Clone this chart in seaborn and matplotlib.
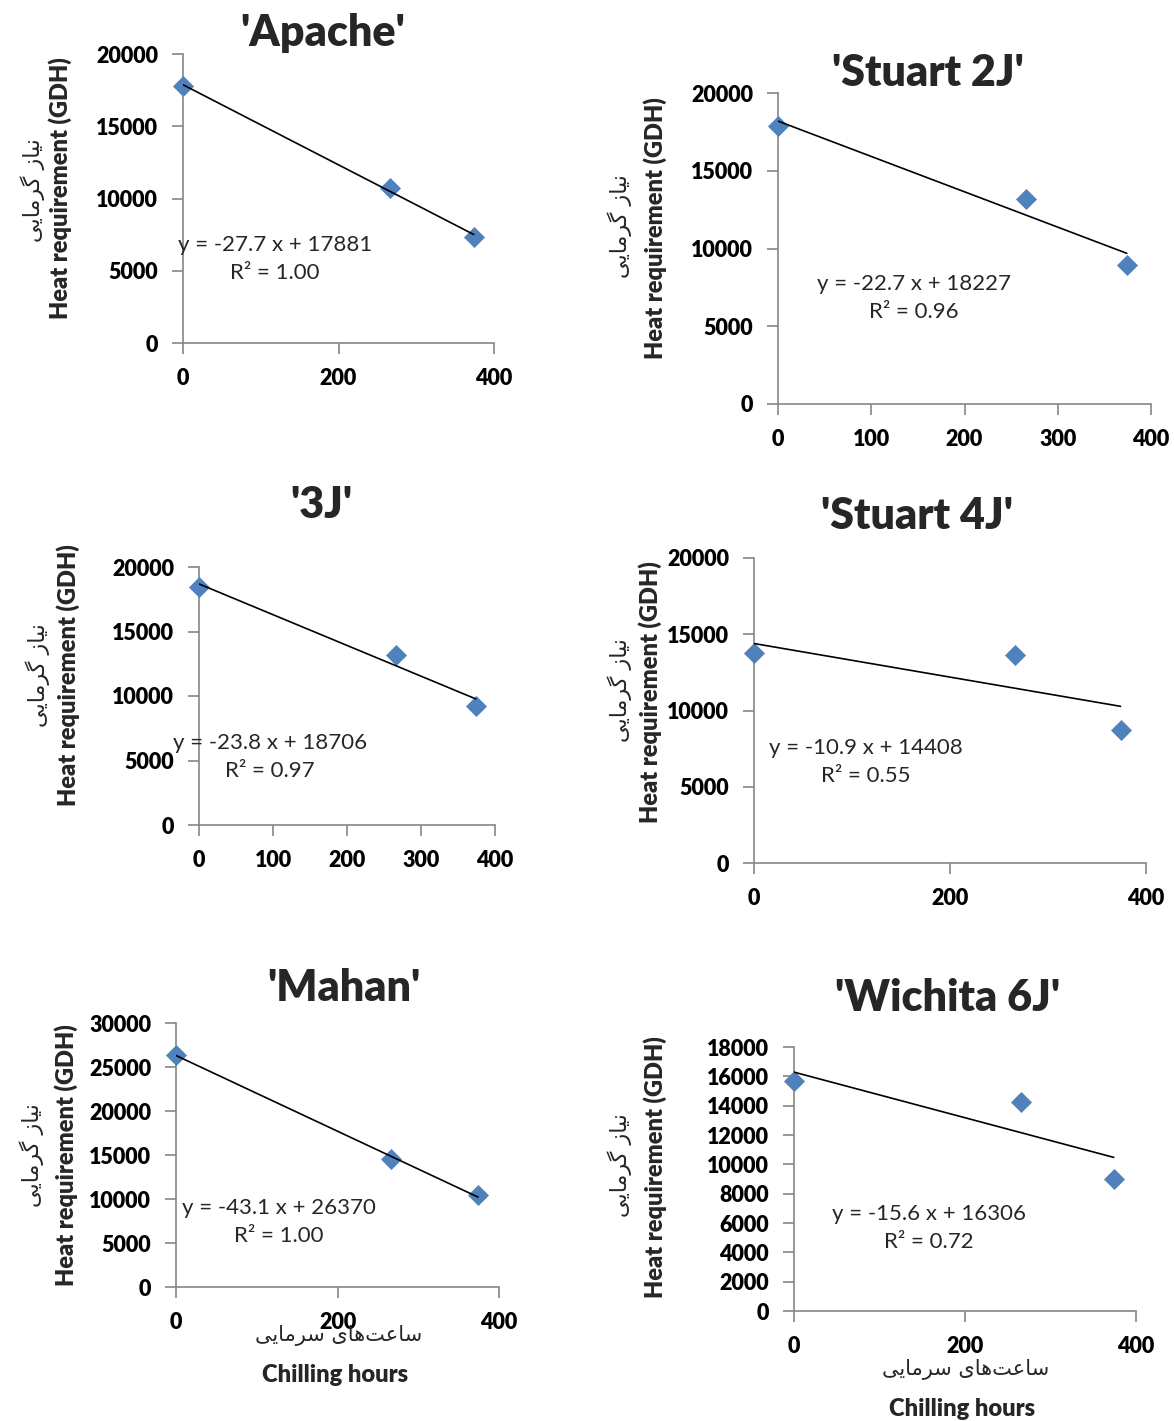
import numpy as np
import pandas as pd
import seaborn as sns
import matplotlib.pyplot as plt

W, H = 1174, 1421

# chilling hours are the same three levels for every cultivar
chill_hours = [0, 266, 374]

cultivars = ["'Apache'", "'Stuart 2J'", "'3J'", "'Stuart 4J'", "'Mahan'", "'Wichita 6J'"]
gdh_apache = [17800, 10750, 7330]
gdh_stuart2j = [17900, 13160, 8970]
gdh_3j = [18450, 13170, 9190]
gdh_stuart4j = [13770, 13620, 8740]
gdh_mahan = [26410, 14510, 10470]
gdh_wichita6j = [15680, 14250, 8980]
gdh_all = [gdh_apache, gdh_stuart2j, gdh_3j, gdh_stuart4j, gdh_mahan, gdh_wichita6j]

equations = ['y = -27.7 x + 17881', 'y = -22.7 x + 18227', 'y = -23.8 x + 18706',
             'y = -10.9 x + 14408', 'y = -43.1 x + 26370', 'y = -15.6 x + 16306']
r_squared = ['1.00', '0.96', '0.97', '0.55', '1.00', '0.72']

y_max = [20000, 20000, 20000, 20000, 30000, 18000]
y_step = [5000, 5000, 5000, 5000, 5000, 2000]
x_step = [200, 100, 100, 200, 200, 200]

ylabel_en = 'Heat requirement (GDH)'
ylabel_fa = 'نیاز گرمایی'
xlabel_en = 'Chilling hours'
xlabel_fa = 'ساعت\u200cهای سرمایی'

# layout in pixels: axes box (left, top, right, bottom)
boxes = [(183, 54, 494, 343), (778, 93, 1151, 404), (199, 567, 495, 825),
         (754, 558, 1146, 863), (176, 1023, 499, 1287), (794, 1047, 1136, 1311)]
title_pos = [(323, 33), (928, 73), (321, 505), (917, 516), (344, 988), (948, 998)]
ylab_en_pos = [(60, 188), (655, 228), (68, 675), (650, 692), (66, 1155), (655, 1167)]
ylab_fa_pos = [(33, 190), (620, 226), (38, 675), (620, 690), (32, 1155), (620, 1165)]
eq_pos = [(275, 259), (914, 298), (270, 757), (866, 762), (279, 1222), (929, 1228)]
xlab_pos = {4: [(339, 1335), (335, 1375)], 5: [(966, 1370), (962, 1409)]}

BLUE = '#4F81BD'
GREY = '#868686'

# matplotlib does no arabic shaping, so pick presentation forms by hand
FORMS = {  # isolated, final, initial, medial
    'ا': (0xFE8D, 0xFE8E, None, None),
    'ر': (0xFEAD, 0xFEAE, None, None),
    'ز': (0xFEAF, 0xFEB0, None, None),
    'س': (0xFEB1, 0xFEB2, 0xFEB3, 0xFEB4),
    'ع': (0xFEC9, 0xFECA, 0xFECB, 0xFECC),
    'ت': (0xFE95, 0xFE96, 0xFE97, 0xFE98),
    'ه': (0xFEE9, 0xFEEA, 0xFEEB, 0xFEEC),
    'م': (0xFEE1, 0xFEE2, 0xFEE3, 0xFEE4),
    'ن': (0xFEE5, 0xFEE6, 0xFEE7, 0xFEE8),
    'گ': (0xFB92, 0xFB93, 0xFB94, 0xFB95),
    'ی': (0xFBFC, 0xFBFD, 0xFBFE, 0xFBFF),
}


def shape_fa(text):
    out = []
    for i, ch in enumerate(text):
        if ch not in FORMS:
            if ch != '\u200c':
                out.append(ch)
            continue
        iso, fin, ini, med = FORMS[ch]
        prev = text[i - 1] if i > 0 else ''
        nxt = text[i + 1] if i + 1 < len(text) else ''
        join_prev = prev in FORMS and FORMS[prev][2] is not None
        join_next = ini is not None and nxt in FORMS
        if join_prev and join_next:
            cp = med
        elif join_prev:
            cp = fin
        elif join_next:
            cp = ini
        else:
            cp = iso
        out.append(chr(cp))
    return ''.join(reversed(out))


def px(x, y):
    return x / W, 1 - y / H


sns.set_theme(style='ticks')
plt.rcParams['font.family'] = ['Lato', 'DejaVu Sans']

fig = plt.figure(figsize=(W / 100, H / 100), dpi=100)

for i, name in enumerate(cultivars):
    l, t, r, b = boxes[i]
    ax = fig.add_axes([l / W, 1 - b / H, (r - l) / W, (b - t) / H])
    df = pd.DataFrame({'chill': chill_hours, 'gdh': gdh_all[i]})
    sns.regplot(data=df, x='chill', y='gdh', ax=ax, ci=None, marker='D', color=BLUE,
                scatter_kws=dict(s=115, linewidths=0, clip_on=False, zorder=3, alpha=1),
                line_kws=dict(color='black', lw=1.2, zorder=4))
    ax.set_xlim(0, 400)
    ax.set_ylim(0, y_max[i])
    ax.set_xticks(np.arange(0, 401, x_step[i]))
    ax.set_yticks(np.arange(0, y_max[i] + 1, y_step[i]))
    ax.set_xlabel('')
    ax.set_ylabel('')
    sns.despine(ax=ax)
    for s in ['left', 'bottom']:
        ax.spines[s].set_color(GREY)
        ax.spines[s].set_linewidth(1.2)
    ax.tick_params(length=8, width=1.2, color=GREY, labelsize=15.5, pad=10, labelcolor='black')
    for lab in ax.get_xticklabels() + ax.get_yticklabels():
        lab.set_fontweight('heavy')

    fig.text(*px(*title_pos[i]), name, ha='center', va='center', fontsize=31, fontweight='heavy')
    fig.text(*px(*ylab_en_pos[i]), ylabel_en, rotation=90, ha='center', va='center',
             fontsize=17, fontweight='heavy')
    fig.text(*px(*ylab_fa_pos[i]), shape_fa(ylabel_fa), rotation=90, ha='center', va='center',
             fontsize=16, family=['DejaVu Sans'])
    fig.text(*px(*eq_pos[i]), f'{equations[i]}\nR² = {r_squared[i]}', ha='center', va='center',
             multialignment='center', fontsize=16, linespacing=1.55)

    if i in xlab_pos:
        (fx, fy), (ex, ey) = xlab_pos[i]
        fig.text(*px(fx, fy), shape_fa(xlabel_fa), ha='center', va='center', fontsize=15,
                 family=['DejaVu Sans'])
        fig.text(*px(ex, ey), xlabel_en, ha='center', va='center', fontsize=17, fontweight='heavy')

fig.savefig('out.png', dpi=100)
